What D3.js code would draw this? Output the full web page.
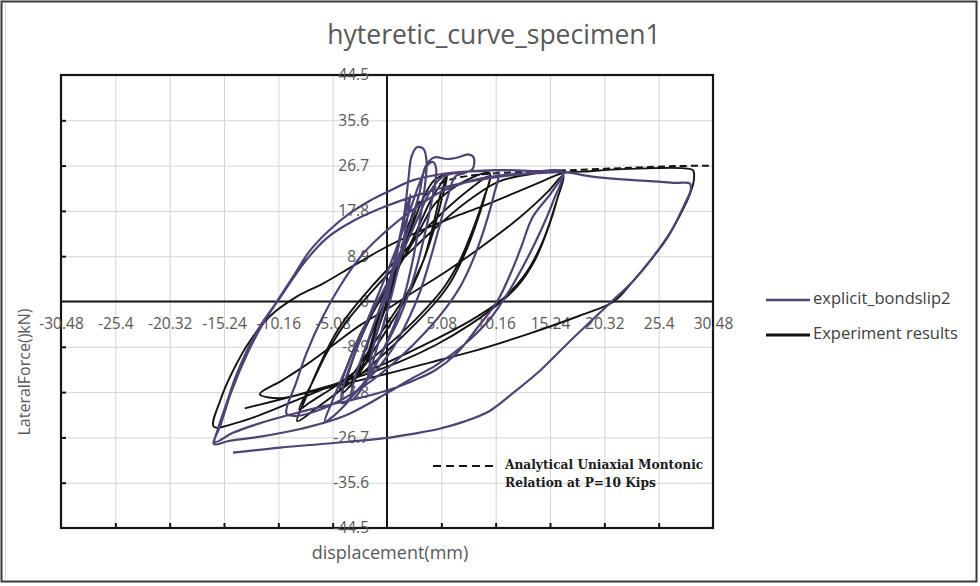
<!DOCTYPE html>
<html>
<head>
<meta charset="utf-8">
<script src="https://cdn.jsdelivr.net/npm/d3@7/dist/d3.min.js"></script>
<style>
  html, body { margin: 0; padding: 0; background: #ffffff; }
  svg { display: block; }
</style>
</head>
<body>
<svg id="chart" width="980" height="586"></svg>
<script>
// ---- data -------------------------------------------------------------
const titleText = "hyteretic_curve_specimen1";
const xTitle = "displacement(mm)";
const yTitle = "LateralForce()kN)";
const xTicks = [-30.48, -25.4, -20.32, -15.24, -10.16, -5.08, 0, 5.08, 10.16, 15.24, 20.32, 25.4, 30.48];
const yTicks = [-44.5, -35.6, -26.7, -17.8, -8.9, 0, 8.9, 17.8, 26.7, 35.6, 44.5];
const seriesNames = ["explicit_bondslip2", "Experiment results"];
const noteLines = ["Analytical Uniaxial Montonic", "Relation at P=10 Kips"];

// measured lateral force vs. displacement (mm, kN)
const experiment = [
  [0,0],[0.8,6],[1.6,12],[2.2,16],[2.6,18.5],[2.2,15],[1.4,9],[0.4,2],[-0.6,-4],[-1.4,-9],
  [-2.0,-12.5],[-1.6,-9],[-0.8,-3.5],[0.2,2.5],[1.2,9],[2.2,15.5],[2.8,19],
  [2.0,13],[1.0,6],[0,0],[-1.0,-6],[-2.2,-12],[-2.8,-14.5],[-2.2,-10.5],[-1.2,-5],[0,1],
  [1.2,8],[2.4,15],[3.2,19.5],
  [3.8,22],[4.4,23.8],[5.2,24.8],[5.6,25],[5.0,21],[4.2,14],[3.4,8],[2.4,3],[1.2,-1.5],
  [0,-5.5],[-1.2,-9.5],[-2.4,-13.5],[-3.4,-16.5],[-4.2,-18],[-3.6,-14],[-2.6,-8],[-1.4,-2.5],
  [0,2.5],[1.4,8],[2.8,14],[4,19.5],[5,23],[5.6,24.6],[5.1,20],[4.3,13.5],[3.3,7.5],[2,2],
  [0.6,-2.5],[-1,-7.5],[-2.6,-12.5],[-3.8,-16],[-4.4,-17.2],[-3.6,-12],[-2.4,-6],[-0.8,0],
  [1,6.5],[2.8,13],[4.4,19],
  [6,22],[7.6,24],[9.6,25.2],[9.2,21],[8.3,15],[7.2,9],[6,4],[4.6,0],[2.6,-4.5],[0.4,-9],
  [-2,-13.5],[-4.4,-17.5],[-6.5,-20.8],[-8.4,-23.5],[-7.6,-19],[-6.4,-13],[-5,-7],[-3.4,-2],
  [-1.4,3],[0.8,8],[3,13],[5.2,17.5],[7.4,21.5],[9.6,24.6],[9,20],[8,14],[6.8,8],[5.4,3],
  [3.6,-1.5],[1.2,-6.5],[-1.6,-11.5],[-4.6,-16.3],[-7.2,-19.8],[-8.2,-21.2],[-7,-16],
  [-5.6,-10],[-3.8,-4],[-1.4,2],[1.4,8.2],[4.4,14.2],[7.4,19.5],[10.4,23.5],[13.4,25],
  [16.4,25.3],[15.9,20],[15,14],[13.8,8],[12.2,3],[10.4,-0.5],[7.8,-4.5],[4.6,-8.5],[1,-12],
  [-3,-15],[-7,-17.5],[-10,-19],[-11.9,-18.2],[-9.8,-15.5],[-7.6,-12.5],[-5,-8.5],[-2.4,-4.5],
  [0,-1.5],[2.6,2],[5.6,6],[9,11],[12.4,16.5],[15,21.5],[16.4,24.6],[15.6,18],[14.4,11],
  [12.8,5],[10.8,0.5],[8,-3.5],[4,-8],[0,-12],[-4,-15.5],[-8,-19],[-11.5,-22],[-14,-23.8],
  [-16.2,-24.6],[-15.6,-19.5],[-14.4,-13.6],[-12.8,-7.7],[-10.9,-2.8],[-8.4,1],[-6,3.5],
  [-3,7.2],[0,10.8],[3,13.8],[6,16.4],[9,18.8],[12,21.4],[14.5,23.6],[16.4,25.2],
  [19,25.6],[22,26],[25,26.2],[27.5,26.2],[28.6,25.8],[28.7,24],[28.3,21],[27.4,17],
  [26.2,12.5],[24.6,8],[23,4],[21.2,0],[18,-2.8],[13.3,-6.3],[8,-9.8],[4,-12],[0,-14.2],
  [-4,-16.2],[-8,-18.2],[-11,-19.8],[-13.3,-21]
];

// simulated response, explicit bond-slip model (mm, kN)
const simulation = [
  [0,0],[0.6,6],[1.2,12],[1.8,18],[2.2,21],[1.8,15],[1.2,8],[0.4,1],[-0.4,-5],[-1.2,-11],
  [-1.8,-15],[-1.4,-10],[-0.7,-4],[0,2],[0.8,9],[1.6,17],
  [2,24],[2.3,28.5],[2.8,30.3],[3.4,30],[3.7,27.5],[3.5,22],[3,15],[2.4,8],[1.6,1],[0.6,-5],
  [-0.6,-10.5],[-2,-15.5],[-3.2,-18.5],[-4.2,-20],[-4.2,-17.5],[-3.5,-13],[-2.6,-8],
  [-1.6,-2.5],[-0.4,3.5],[0.8,10],[2,17],[3,23],
  [3.8,26.8],[4.3,27.4],[4.6,26],[4.2,20],[3.4,12],[2.4,4],[1.2,-3],[-0.2,-9],[-1.6,-14.5],
  [-2.8,-18.4],[-3.4,-19.4],[-3,-15],[-2,-9],[-0.8,-2],[0.6,6],[2,14],[3,21],
  [3.6,26.5],[4.4,28.3],[5.6,28],[6.6,28.3],[7.6,28.9],[8.1,28.3],[8,26],[7.2,25.2],
  [6.4,24.6],[5.6,20],[4.8,14],[4,8],[3.1,2],[2,-3.5],[0.6,-9],[-1,-13.5],[-2.8,-17.5],
  [-4,-20.5],[-5,-22.5],[-5.8,-23.6],[-5.2,-20],[-4,-14],[-2.8,-8],[-1.4,-2],[0,3.5],
  [1.4,9.5],[2.8,16],[4,21.5],[5.2,24.5],
  [7,25.4],[9,25.6],[10.4,25.6],[10,21],[9.2,15],[8.2,9],[7,3.5],[5.6,-1],[3.6,-6],[1.2,-11],
  [-1.4,-15.5],[-4,-19],[-6.6,-21.5],[-8.6,-22.5],[-9.4,-22],[-8.5,-16],[-7.5,-10],[-6,-3],
  [-4.4,3],[-2.4,9],[0,14],[2.4,18],[5,21.5],[8,23.8],[11.6,25],[14,25.2],[16.4,25.3],
  [15.4,21.5],[13.6,16.5],[12.6,11],[11.8,6.7],[10.3,0],[8.5,-5],[6.5,-10.2],[4.5,-13.5],
  [2.4,-15.6],[0,-17.5],[-3,-19.2],[-6,-20.6],[-9,-22.2],[-12,-24],[-14.4,-25.8],
  [-16.1,-27.6],[-15.8,-25],[-15,-20],[-14,-14],[-12.2,-6],[-10.3,0],[-8.6,5.5],[-7.2,10],
  [-5.4,14],[-3.5,17.3],[-1.6,19.8],[0,21.5],[2.4,23.8],[5,25],[8,25.6],[11,25.8],[14,25.6],
  [16.4,25.4],[15.6,20],[14.4,14],[13,8],[11.4,2],[9.6,-3.5],[7.2,-8.5],[4.6,-12.5],[2,-15.5],
  [0,-18],[-4,-22.5],[-8,-25],[-12,-26.6],[-14.8,-27.4],[-16.2,-28],[-15.6,-24.5],
  [-14.6,-18],[-13,-10],[-11.5,-4],[-9.6,2],[-7.6,8],[-5.6,12.5],[-3,16],[0,18.8],[3,21],
  [6,22.8],[10,24.4],[14,25.2],[16.6,25.4],
  [19,24.6],[22,24],[25,23.6],[27,23.3],[28.3,23.2],[28.4,22],[27.8,19],[26.6,14],[24.6,8],
  [23,4],[21,0],[19,-4],[17,-8],[14.3,-13.6],[12,-17.6],[9.6,-21.5],[7.2,-23.6],[4.9,-25],
  [2.4,-26],[0,-26.8],[-5,-27.8],[-10,-28.7],[-14.4,-29.7]
];

// analytical uniaxial monotonic envelope (mm, kN)
const monotonic = [
  [0,0],[1,8],[2,15],[3,19.5],[4.5,22.5],[6,24],[9,25],[13,25.5],[17,25.8],[22,26.2],
  [27,26.6],[30.48,26.7]
];

// ---- layout -----------------------------------------------------------
const svg = d3.select("#chart");
const W = 980, H = 586;
const plot = { left: 61, right: 713, top: 75, bottom: 528 };
const sans = "'Open Sans', Lato, sans-serif";

const x = d3.scaleLinear().domain([-30.48, 30.48]).range([plot.left, plot.right]);
const y = d3.scaleLinear().domain([-44.5, 44.5]).range([plot.bottom, plot.top]);

const grey = "#595959";
const purple = "#4e4374";

// outer frame
svg.append("rect").attr("x", 1.5).attr("y", 1.5).attr("width", W - 5).attr("height", H - 6)
  .attr("fill", "#fff").attr("stroke", "#3a3a3a").attr("stroke-width", 2);
svg.append("line").attr("x1", 5.5).attr("x2", 5.5).attr("y1", 3).attr("y2", H - 6)
  .attr("stroke", "#cfe0ea").attr("stroke-width", 1);

// title
svg.append("text").attr("x", 494).attr("y", 37).attr("text-anchor", "middle")
  .attr("dominant-baseline", "middle").attr("fill", grey)
  .style("font-family", sans).style("font-size", "26.5px")
  .text(titleText);

// gridlines
svg.append("g").attr("transform", `translate(0,${plot.bottom})`)
  .call(d3.axisBottom(x).tickValues(xTicks).tickSize(-(plot.bottom - plot.top)).tickFormat(""))
  .call(g => g.select(".domain").remove())
  .call(g => g.selectAll("line").attr("stroke", "#d4d4d4").attr("stroke-width", 1));
svg.append("g").attr("transform", `translate(${plot.left},0)`)
  .call(d3.axisLeft(y).tickValues(yTicks).tickSize(-(plot.right - plot.left)).tickFormat(""))
  .call(g => g.select(".domain").remove())
  .call(g => g.selectAll("line").attr("stroke", "#d4d4d4").attr("stroke-width", 1));

// figure box with inward tick marks
svg.append("rect").attr("x", plot.left).attr("y", plot.top)
  .attr("width", plot.right - plot.left).attr("height", plot.bottom - plot.top)
  .attr("fill", "none").attr("stroke", "#151515").attr("stroke-width", 2.2);
svg.append("g").attr("transform", `translate(${plot.left},0)`)
  .call(d3.axisRight(y).tickValues(yTicks.slice(1, -1).filter(d => d !== 0)).tickSize(5).tickFormat(""))
  .call(g => g.select(".domain").remove())
  .call(g => g.selectAll("line").attr("stroke", "#151515").attr("stroke-width", 2));
svg.append("g").attr("transform", `translate(0,${plot.bottom})`)
  .call(d3.axisTop(x).tickValues(xTicks.slice(1, -1).filter(d => d !== 0)).tickSize(5).tickFormat(""))
  .call(g => g.select(".domain").remove())
  .call(g => g.selectAll("line").attr("stroke", "#151515").attr("stroke-width", 2));

// zero axes of the figure
svg.append("line").attr("x1", plot.left).attr("x2", plot.right).attr("y1", y(0)).attr("y2", y(0))
  .attr("stroke", "#151515").attr("stroke-width", 2);
svg.append("line").attr("x1", x(0)).attr("x2", x(0)).attr("y1", plot.top).attr("y2", plot.bottom)
  .attr("stroke", "#151515").attr("stroke-width", 2);

// tick labels on the axes crossing at the origin
svg.append("g").attr("transform", `translate(0,${y(0)})`)
  .call(d3.axisBottom(x).tickValues(xTicks).tickSize(0).tickPadding(16).tickFormat(d => String(d)))
  .call(g => g.select(".domain").remove())
  .call(g => g.selectAll("text").attr("fill", grey)
    .style("font-family", sans).style("font-size", "15.5px"));
svg.append("g").attr("transform", `translate(${x(0)},0)`)
  .call(d3.axisLeft(y).tickValues(yTicks).tickSize(0).tickPadding(18).tickFormat(d => String(d)))
  .call(g => g.select(".domain").remove())
  .call(g => g.selectAll("text").attr("fill", grey)
    .style("font-family", sans).style("font-size", "15.5px"));

// curves
const line = d3.line().x(d => x(d[0])).y(d => y(d[1])).curve(d3.curveCatmullRom.alpha(0.5));

svg.append("path").datum(monotonic).attr("d", line).attr("fill", "none")
  .attr("stroke", "#151515").attr("stroke-width", 2).attr("stroke-dasharray", "7,4");
svg.append("path").datum(experiment).attr("d", line).attr("fill", "none")
  .attr("stroke", "#141414").attr("stroke-width", 1.9).attr("stroke-linejoin", "round");
svg.append("path").datum(simulation).attr("d", line).attr("fill", "none")
  .attr("stroke", purple).attr("stroke-width", 2.2).attr("stroke-linejoin", "round");

// note for the dashed envelope
svg.append("line").attr("x1", 433).attr("x2", 498).attr("y1", 466).attr("y2", 466)
  .attr("stroke", "#151515").attr("stroke-width", 2).attr("stroke-dasharray", "8,5");
noteLines.forEach((t, i) => {
  svg.append("text").attr("x", 505).attr("y", 469 + i * 18).attr("fill", "#1a1a1a")
    .style("font-family", "'DejaVu Serif', 'Liberation Serif', serif")
    .style("font-weight", "bold").style("font-size", "12.2px").text(t);
});

// axis titles
svg.append("text").attr("x", 390).attr("y", 554).attr("text-anchor", "middle")
  .attr("dominant-baseline", "middle").attr("fill", grey)
  .style("font-family", sans).style("font-size", "18px").text(xTitle);
svg.append("text").attr("transform", `translate(26,372) rotate(-90)`)
  .attr("text-anchor", "middle").attr("dominant-baseline", "middle").attr("fill", grey)
  .style("font-family", sans).style("font-size", "16px").text(yTitle);

// legend
const legend = svg.append("g");
[purple, "#111111"].forEach((c, i) => {
  const ly = 300 + i * 35;
  legend.append("line").attr("x1", 766).attr("x2", 810).attr("y1", ly).attr("y2", ly)
    .attr("stroke", c).attr("stroke-width", i ? 3 : 2.5);
  legend.append("text").attr("x", 813).attr("y", ly).attr("dominant-baseline", "middle")
    .attr("fill", "#404040").style("font-family", sans).style("font-size", "16.5px")
    .text(seriesNames[i]);
});
</script>
</body>
</html>
